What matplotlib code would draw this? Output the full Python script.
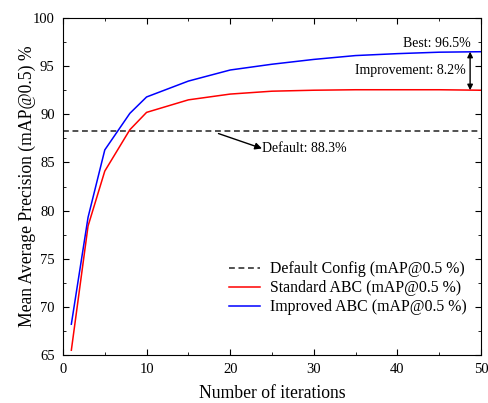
import matplotlib
matplotlib.use('Agg')
import matplotlib.pyplot as plt
from matplotlib.ticker import MultipleLocator

plt.rcParams['font.family'] = ['Liberation Serif', 'DejaVu Serif']
plt.rcParams['mathtext.fontset'] = 'stix'

# 数据
iterations = [1, 3, 5, 8, 10, 15, 20, 25, 30, 35, 40, 45, 50]
standard_abc = [65.5, 78.4, 84.1, 88.4, 90.2, 91.5, 92.1, 92.4, 92.5, 92.55, 92.55, 92.55, 92.5]
improved_abc = [68.2, 79.3, 86.3, 90.1, 91.8, 93.45, 94.6, 95.2, 95.7, 96.1, 96.3, 96.45, 96.5]
default_map = 88.3
best_map = 96.5
improvement = 8.2

fig = plt.figure(figsize=(4.89, 4.03), dpi=100)
ax = fig.add_axes([0.1288, 0.1191, 0.8548, 0.8362])

ax.axhline(default_map, color='#333333', linestyle=(0, (3.5, 2.2)), linewidth=1.2,
           label='Default Config (mAP@0.5 %)')
ax.plot(iterations, standard_abc, color='red', linewidth=1.1, label='Standard ABC (mAP@0.5 %)')
ax.plot(iterations, improved_abc, color='blue', linewidth=1.1, label='Improved ABC (mAP@0.5 %)')

ax.set_xlim(0, 50)
ax.set_ylim(65, 100)
ax.xaxis.set_major_locator(MultipleLocator(10))
ax.xaxis.set_minor_locator(MultipleLocator(5))
ax.yaxis.set_major_locator(MultipleLocator(5))
ax.yaxis.set_minor_locator(MultipleLocator(2.5))
ax.tick_params(which='both', direction='in', top=True, right=True, labelsize=10.5, pad=6)
ax.tick_params(which='major', length=4)
ax.tick_params(which='minor', length=2)

ax.set_xlabel('Number of iterations', fontsize=12.7, labelpad=6)
ax.set_ylabel('Mean Average Precision (mAP@0.5) %', fontsize=12.7, labelpad=-2)

# 标注
ax.text(48.8, 97.4, f'Best: {best_map}%', ha='right', va='center', fontsize=10)
ax.annotate('', xy=(48.7, best_map), xytext=(48.7, standard_abc[-1]),
            arrowprops=dict(arrowstyle='<|-|>', color='black', lw=1.0,
                            mutation_scale=8, shrinkA=0, shrinkB=0))
ax.text(48.2, 94.5, f'Improvement: {improvement}%', ha='right', va='center', fontsize=10)
ax.annotate('', xy=(23.8, 86.45), xytext=(18.6, 88.0),
            arrowprops=dict(arrowstyle='-|>', color='black', lw=1.0,
                            mutation_scale=10, shrinkA=0, shrinkB=0))
ax.text(23.8, 86.4, f'Default: {default_map}%', ha='left', va='center', fontsize=10)

ax.legend(loc='lower right', frameon=False, fontsize=11.4, handlelength=2.0,
          handletextpad=0.6, borderaxespad=0.5, labelspacing=0.2,
          bbox_to_anchor=(1.0, 0.075))

fig.savefig('out.png', dpi=100)
